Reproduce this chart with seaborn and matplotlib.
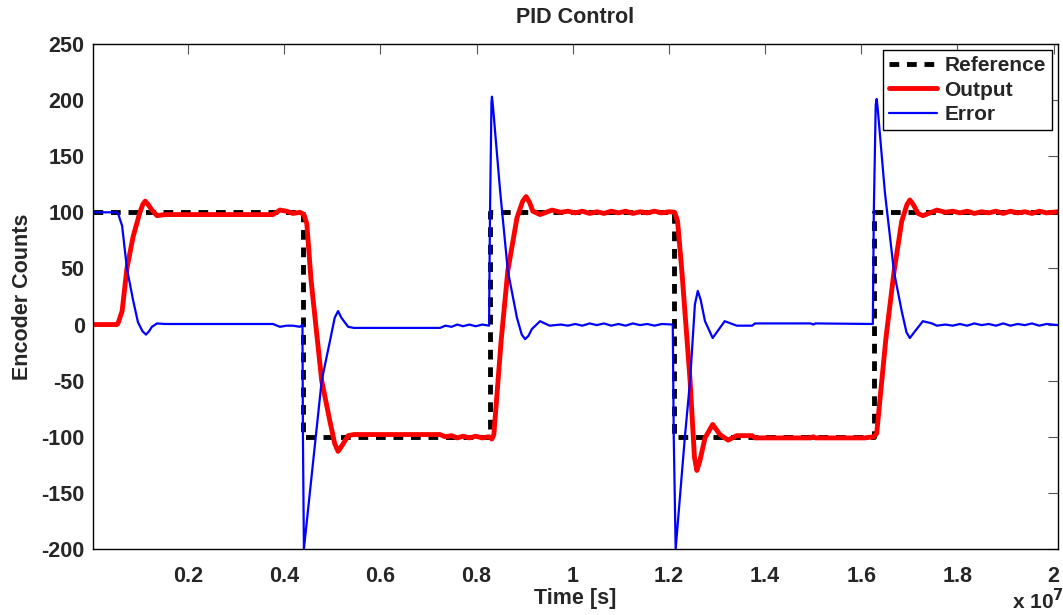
import numpy as np
import pandas as pd
import matplotlib
matplotlib.use("Agg")
import matplotlib.pyplot as plt
import seaborn as sns
from matplotlib.ticker import FuncFormatter, FixedLocator

# time values in units of 1e7 s
ref_t = [0.0025, 0.439, 0.439, 0.828, 0.828, 1.210, 1.210, 1.626, 1.626, 2.009]
ref_v = [100, 100, -100, -100, 100, 100, -100, -100, 100, 100]

out_t = [0.0025, 0.052, 0.0545, 0.063, 0.073, 0.0857, 0.100, 0.106, 0.111, 0.117, 0.125, 0.1356,
         0.152, 0.3767, 0.391, 0.405, 0.418, 0.433, 0.441, 0.447, 0.456, 0.478,
         0.495, 0.505, 0.512, 0.520, 0.533, 0.545, 0.724, 0.735, 0.748, 0.76, 0.772, 0.785,
         0.798, 0.812, 0.826, 0.832, 0.836, 0.851, 0.865, 0.884, 0.896, 0.903, 0.910, 0.917,
         0.932, 0.957, 0.975, 0.99, 1.005, 1.02, 1.035, 1.05, 1.065, 1.08,
         1.095, 1.11, 1.125, 1.14, 1.155, 1.17, 1.185, 1.200, 1.212, 1.218,
         1.227, 1.244, 1.253, 1.258, 1.264, 1.275, 1.291, 1.306, 1.323, 1.341, 1.373, 1.379,
         1.495, 1.50, 1.505, 1.607, 1.626, 1.632, 1.651, 1.668, 1.684, 1.695, 1.701, 1.708,
         1.718, 1.728, 1.757, 1.775, 1.79, 1.805, 1.82, 1.835, 1.85, 1.865,
         1.88, 1.895, 1.91, 1.925, 1.94, 1.955, 1.97, 1.985, 2.009]
out_v = [0, 0, 1, 12, 50, 78, 100, 107, 110, 107, 102, 97,
         98, 98, 102, 101, 99, 100, 98, 90, 39, -50,
         -86, -106, -113, -108, -99, -98, -98, -100, -99, -101, -99.5, -101,
         -99.5, -101, -100, -102, -98, -15, 48, 95, 110, 114, 109, 101,
         98, 102, 100, 101, 99.5, 101, 99, 100.5, 99, 101,
         99.5, 101, 99, 100.5, 99.5, 101, 99.5, 100.5, 100, 92,
         47, -50, -118, -130, -122, -101, -89, -98, -103, -99, -99, -101,
         -101, -100, -101, -101, -100, -97, -13, 47, 92, 107, 111, 107,
         99, 97, 102, 100, 101, 99.5, 101, 99, 100.5, 99.5,
         101, 99, 101, 99.5, 100.5, 99, 101, 99.5, 100.5]

err_t = [0.0025, 0.052, 0.0545, 0.063, 0.073, 0.0857, 0.096, 0.1055, 0.1127, 0.119, 0.125, 0.1356,
         0.152, 0.3767, 0.391, 0.405, 0.418, 0.433, 0.438, 0.439, 0.441, 0.478,
         0.495, 0.505, 0.512, 0.519, 0.533, 0.545, 0.724, 0.735, 0.748, 0.76, 0.772, 0.785,
         0.798, 0.812, 0.826, 0.828, 0.831, 0.832, 0.834, 0.849, 0.865, 0.884, 0.894, 0.901, 0.908, 0.915,
         0.932, 0.952, 0.975, 0.99, 1.005, 1.02, 1.035, 1.05, 1.065, 1.08,
         1.095, 1.11, 1.125, 1.14, 1.155, 1.17, 1.185, 1.208, 1.210, 1.214,
         1.233, 1.244, 1.254, 1.260, 1.266, 1.275, 1.291, 1.316, 1.341, 1.373, 1.379, 1.495,
         1.50, 1.505, 1.624, 1.626, 1.630, 1.632, 1.634, 1.649, 1.668, 1.684, 1.694, 1.701, 1.708, 1.728,
         1.747, 1.757, 1.775, 1.79, 1.805, 1.82, 1.835, 1.85, 1.865, 1.88,
         1.895, 1.91, 1.925, 1.94, 1.955, 1.97, 1.985, 2.009]
err_v = [100, 100, 99, 88, 50, 22, 2, -6, -9, -6, -2, 1,
         0.5, 0.5, -2, -1, -1, -2, 0, -100, -200, -50,
         -15, 6, 12, 6, -2, -3, -3, -1, -2, 0, -1.5, 0,
         -1.5, 0, -1, 100, 198, 203, 195, 119, 48, 6, -9, -13, -10, -4,
         3, -1, 0, -1, 0.5, -1, 1, -0.5, 1, -1,
         0.5, -1, 1, -0.5, 0.5, -1, 0.5, 0, -100, -200,
         -101, -50, 18, 30, 22, 3, -12, 3, -1, -1, 1, 1,
         0, 1, 0.5, 100, 196, 201, 193, 118, 47, 12, -7, -12, -8, 3,
         1, -1, 0, -1, 0.5, -1, 1, -0.5, 0.5, -1,
         1, -1, 0.5, -0.5, 1, -1, 0.5, -0.5]

x_ticks = [0.2, 0.4, 0.6, 0.8, 1.0, 1.2, 1.4, 1.6, 1.8, 2.0]
y_ticks = [-200, -150, -100, -50, 0, 50, 100, 150, 200, 250]

sns.set_style("white")
plt.rcParams['font.family'] = ['Liberation Sans', 'DejaVu Sans']
plt.rcParams['font.weight'] = 'bold'
plt.rcParams['axes.unicode_minus'] = False

ref = pd.DataFrame({'t': np.array(ref_t) * 1e7, 'v': ref_v})
out = pd.DataFrame({'t': np.array(out_t) * 1e7, 'v': out_v})
err = pd.DataFrame({'t': np.array(err_t) * 1e7, 'v': err_v})

fig = plt.figure(figsize=(10.63, 6.15), dpi=100)
ax = fig.add_axes([0.0875, 0.1073, 0.9078, 0.8212])

sns.lineplot(data=ref, x='t', y='v', ax=ax, color='black', lw=3.5,
             dashes=False, linestyle=(0, (2.0, 1.6)), estimator=None, sort=False,
             label='Reference')
sns.lineplot(data=out, x='t', y='v', ax=ax, color='#ff0000', lw=3.5,
             estimator=None, sort=False, label='Output')
sns.lineplot(data=err, x='t', y='v', ax=ax, color='#0000ff', lw=1.6,
             estimator=None, sort=False, label='Error')

ax.set_xlim(0.0025e7, 2.009e7)
ax.set_ylim(-200, 250)
ax.xaxis.set_major_locator(FixedLocator([v * 1e7 for v in x_ticks]))
ax.xaxis.set_major_formatter(FuncFormatter(lambda v, _: f"{v / 1e7:g}"))
ax.set_yticks(y_ticks)
ax.tick_params(direction='in', top=True, right=True, length=7, width=0.8,
               color='#555555', labelsize=15.5)
ax.tick_params(axis='x', pad=12)
ax.tick_params(axis='y', pad=6)
for s in ax.spines.values():
    s.set_color('black')
    s.set_linewidth(1.0)

ax.set_title('PID Control', fontsize=15.5, fontweight='bold', pad=15)
ax.set_xlabel('Time [s]', fontsize=15.5, fontweight='bold')
ax.xaxis.set_label_coords(0.5, -0.078)
ax.set_ylabel('Encoder Counts', fontsize=15.5, fontweight='bold', labelpad=6)
fig.text(0.952, 0.01, r'x 10$^{7}$', fontsize=15, fontweight='bold')

leg = ax.legend(loc='upper right', fontsize=15, frameon=True, fancybox=False,
                framealpha=1, edgecolor='black', handlelength=2.3,
                handletextpad=0.35, labelspacing=0.25, borderaxespad=0.3,
                borderpad=0.3)
leg.get_frame().set_linewidth(1.0)

fig.savefig('out.png', dpi=100)
